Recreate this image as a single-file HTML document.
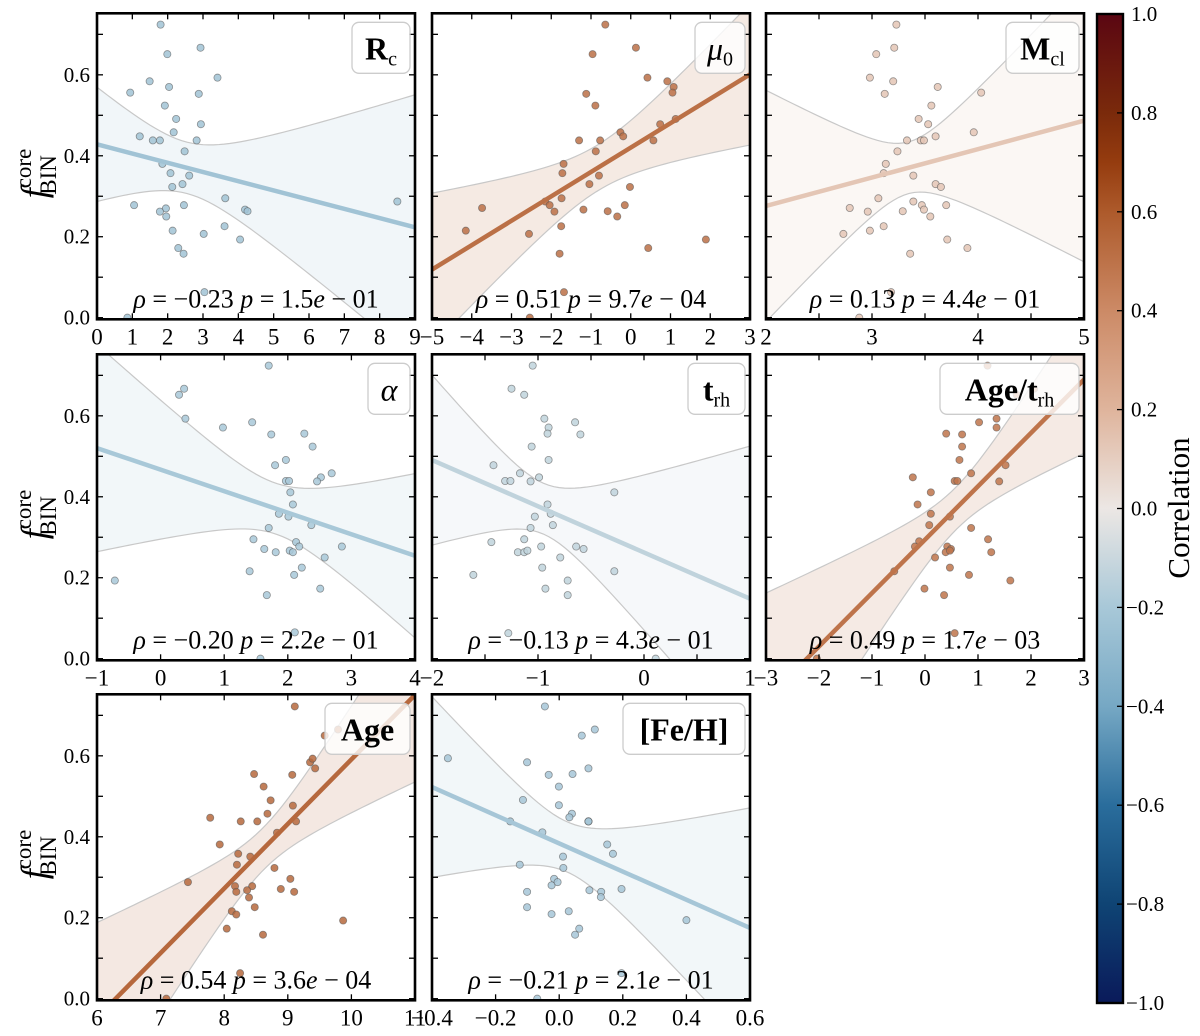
<!DOCTYPE html>
<html><head><meta charset="utf-8"><style>
html,body{margin:0;padding:0;background:#fff;width:1200px;height:1036px;overflow:hidden;}
svg{display:block;}
text{font-family:"Liberation Serif","DejaVu Serif",serif;}
</style></head><body>
<svg id="fig" width="1200" height="1036" viewBox="0 0 1200 1036" xmlns="http://www.w3.org/2000/svg">
<defs>
<linearGradient id="cbgrad" x1="0" y1="0" x2="0" y2="1">
<stop offset="0" stop-color="#5a0612"/>
<stop offset="0.1" stop-color="#7a2a0b"/>
<stop offset="0.15" stop-color="#953c0f"/>
<stop offset="0.2" stop-color="#ad5a2b"/>
<stop offset="0.3" stop-color="#cc8a66"/>
<stop offset="0.4" stop-color="#dfb49c"/>
<stop offset="0.5" stop-color="#ece7e4"/>
<stop offset="0.6" stop-color="#a8c8d8"/>
<stop offset="0.7" stop-color="#76a8c4"/>
<stop offset="0.8" stop-color="#2a6d9c"/>
<stop offset="0.9" stop-color="#0f4474"/>
<stop offset="1" stop-color="#0a1a5a"/>
</linearGradient>
</defs>
</svg>
<script>
// shared y values (f_BIN core)
const fbin = [0.724,0.667,0.651,0.593,0.584,0.570,0.556,0.553,0.524,0.491,0.478,0.458,0.448,0.438,0.438,0.438,0.411,0.380,0.357,0.351,0.330,0.323,0.295,0.278,0.270,0.278,0.262,0.250,0.267,0.263,0.215,0.207,0.226,0.193,0.172,0.158,0.287,0.063,0.0];
const xRc = [1.80,2.93,1.99,3.41,1.49,2.04,0.94,2.88,1.92,2.24,2.94,2.17,1.21,1.58,1.78,2.82,2.48,1.85,2.08,2.61,2.42,2.13,3.63,1.05,1.95,2.46,1.78,1.96,4.19,4.26,2.14,3.02,3.61,4.05,2.30,2.45,8.50,3.04,0.86];
const yMu = [0.724,0.667,0.651,0.593,0.584,0.570,0.556,0.553,0.524,0.491,0.478,0.458,0.448,0.438,0.438,0.438,0.411,0.380,0.357,0.351,0.330,0.323,0.295,0.271,0.287,0.278,0.262,0.267,0.263,0.250,0.278,0.226,0.215,0.207,0.193,0.172,0.158,0.063,0.0];
const xMu = [-0.64,0.13,-0.96,0.42,0.92,1.08,1.05,-1.12,-0.89,1.13,0.74,-0.26,-0.19,-1.30,-0.77,0.57,-0.88,-1.69,-1.72,-0.80,-1.04,-0.02,-1.74,-3.74,-2.15,-2.04,-1.92,-1.19,-0.58,-0.34,-0.15,-1.75,-4.15,-2.56,1.89,0.44,-1.79,-1.68,-2.54];
const yMcl = [0.724,0.667,0.651,0.593,0.584,0.570,0.553,0.556,0.524,0.491,0.478,0.458,0.448,0.438,0.438,0.438,0.411,0.380,0.357,0.351,0.330,0.323,0.295,0.271,0.287,0.278,0.267,0.278,0.262,0.263,0.250,0.226,0.215,0.207,0.193,0.172,0.158,0.063,0.0];
const xMcl = [3.23,3.21,3.04,2.98,3.20,3.62,3.12,4.03,3.56,3.44,3.53,3.96,3.60,3.33,3.46,3.49,3.24,3.13,3.11,3.39,3.60,3.65,3.06,2.79,3.39,3.47,3.49,3.70,2.96,3.29,3.55,3.11,2.98,2.73,3.71,3.90,3.36,3.18,2.88];
const yAl = [0.724,0.667,0.652,0.593,0.584,0.571,0.554,0.556,0.524,0.491,0.478,0.458,0.448,0.438,0.439,0.439,0.411,0.381,0.358,0.351,0.330,0.323,0.295,0.277,0.271,0.288,0.277,0.263,0.267,0.263,0.250,0.225,0.216,0.207,0.193,0.173,0.157,0.065,0.0];
const xAl = [1.70,0.37,0.29,0.39,1.44,0.98,1.74,2.26,2.39,1.97,1.80,2.69,2.52,2.46,1.97,2.02,2.04,2.08,1.86,2.01,2.37,1.70,1.46,2.85,1.63,2.13,2.18,1.81,2.03,2.08,2.58,2.22,1.40,2.10,-0.72,2.51,1.67,2.11,1.57];
const yTrh = [0.724,0.667,0.652,0.593,0.584,0.571,0.556,0.554,0.524,0.491,0.478,0.458,0.448,0.439,0.439,0.438,0.411,0.381,0.358,0.351,0.330,0.323,0.295,0.288,0.277,0.277,0.271,0.263,0.263,0.267,0.250,0.225,0.216,0.207,0.193,0.173,0.157,0.063,0.0];
const xTrh = [-1.05,-1.25,-1.13,-0.94,-0.65,-0.90,-0.91,-0.60,-1.06,-0.90,-1.42,-1.17,-0.99,-1.31,-1.26,-1.07,-0.28,-0.91,-0.88,-1.03,-0.86,-1.07,-1.13,-1.44,-0.97,-0.64,-0.57,-1.19,-1.13,-1.10,-0.79,-0.96,-0.28,-1.61,-0.72,-0.93,-0.72,-1.28,0.11];
const yAt = [0.724,0.652,0.667,0.584,0.593,0.571,0.556,0.554,0.524,0.491,0.478,0.458,0.448,0.439,0.439,0.438,0.411,0.381,0.358,0.351,0.330,0.323,0.290,0.295,0.277,0.277,0.271,0.263,0.263,0.250,0.225,0.216,0.207,0.193,0.173,0.157,0.063,0.0,0.267];
const xAt = [1.18,1.73,2.06,1.02,1.35,1.35,0.40,0.70,0.70,0.65,1.52,0.87,-0.23,0.56,0.61,1.40,0.11,-0.14,0.11,0.47,0.08,0.87,-0.11,1.19,-0.19,0.42,0.49,1.25,0.39,0.19,0.47,-0.58,0.83,1.61,-0.01,0.36,0.56,-2.04,0.47];
const yAge = [0.722,0.650,0.665,0.584,0.593,0.569,0.555,0.553,0.524,0.490,0.477,0.457,0.447,0.438,0.438,0.438,0.410,0.381,0.358,0.351,0.331,0.323,0.296,0.288,0.278,0.278,0.271,0.268,0.264,0.264,0.250,0.226,0.216,0.208,0.193,0.173,0.158,0.063,0.0];
const xAge = [9.11,9.58,9.79,9.35,9.39,9.43,8.47,9.07,8.62,8.73,9.08,8.68,7.78,8.26,8.52,9.13,8.83,7.93,8.22,8.41,8.20,8.79,9.04,7.43,8.17,8.44,8.89,8.36,8.19,9.10,8.39,8.48,8.12,8.19,9.87,8.04,8.61,8.25,7.09];
const yFe = [0.722,0.665,0.650,0.594,0.584,0.569,0.553,0.555,0.524,0.491,0.478,0.457,0.448,0.438,0.438,0.438,0.411,0.381,0.358,0.351,0.331,0.323,0.296,0.280,0.288,0.268,0.264,0.251,0.271,0.264,0.226,0.216,0.209,0.194,0.173,0.158,0.063,0.0,0.438];
const xFe = [-0.045,0.112,0.071,-0.350,-0.101,0.092,-0.033,0.042,-0.001,-0.114,-0.001,0.040,0.032,-0.154,0.092,0.092,-0.053,0.151,0.169,0.012,-0.124,0.013,-0.016,-0.024,-0.005,0.095,0.132,0.131,0.196,-0.101,-0.101,0.030,-0.024,0.400,0.063,0.050,0.196,-0.069,0.092];
const rhoVals = [-0.23,0.51,0.13,-0.20,-0.13,0.49,0.54,-0.21];
const pVals = ["1.5e − 01","9.7e − 04","4.4e − 01","2.2e − 01","4.3e − 01","1.7e − 03","3.6e − 04","2.1e − 01"];
const xLims = [[0,9],[-5,3],[2,5],[-1,4],[-2,1],[-3,3],[6,11],[-0.4,0.6]];
const xTickLabels = [[0,1,2,3,4,5,6,7,8,9],[-5,-4,-3,-2,-1,0,1,2,3],[2,3,4,5],[-1,0,1,2,3,4],[-2,-1,0,1],[-3,-2,-1,0,1,2,3],[6,7,8,9,10,11],[-0.4,-0.2,0.0,0.2,0.4,0.6]];
const xTickSteps = [1,1,0.5,1,0.5,1,1,0.2];
const yTickLabels = [0.0,0.2,0.4,0.6];
const cbTicks = [1.0,0.8,0.6,0.4,0.2,0.0,-0.2,-0.4,-0.6,-0.8,-1.0];

const panelsX = [xRc,xMu,xMcl,xAl,xTrh,xAt,xAge,xFe];
const panelsY = [fbin,yMu,yMcl,yAl,yTrh,yAt,yAge,yFe];
const names = ["rc","mu0","mcl","alpha","trh","age-trh","age","feh"];

const NS="http://www.w3.org/2000/svg";
const svg=document.getElementById('fig');
function mk(tag,attrs,parent){const e=document.createElementNS(NS,tag);for(const k in attrs)e.setAttribute(k,attrs[k]);(parent||svg).appendChild(e);return e;}

const stops=[[1,[90,6,18]],[0.8,[122,42,11]],[0.7,[149,60,15]],[0.6,[173,90,43]],[0.4,[204,138,102]],[0.2,[223,180,156]],[0,[236,231,228]],[-0.2,[168,200,216]],[-0.4,[118,168,196]],[-0.6,[42,109,156]],[-0.8,[15,68,116]],[-1,[10,26,90]]];
function cmap(v){for(let i=0;i<stops.length-1;i++){const a=stops[i],b=stops[i+1];if(v<=a[0]&&v>=b[0]){const t=(a[0]-v)/(a[0]-b[0]);const c=a[1].map((x,j)=>Math.round(x+(b[1][j]-x)*t));return 'rgb('+c.join(',')+')';}}return 'rgb(236,231,228)';}

const colL=[97,432,766], W=318, rowT=[13.3,354.3,694.3], H=306, YMIN=-0.004, YMAX=0.752;
function fmtTick(v,i){if(i===7)return (v<0?'−':'')+Math.abs(v).toFixed(1);return (v<0?'−':'')+Math.abs(v);}

for(let p=0;p<8;p++){
  const L=colL[p%3], T=rowT[Math.floor(p/3)];
  const [x0,x1]=xLims[p];
  const sx=v=>L+(v-x0)/(x1-x0)*W;
  const sy=v=>T+H-(v-YMIN)/(YMAX-YMIN)*H;
  const g=mk('g',{});
  
  
  const cp=mk('clipPath',{id:'clip'+p},g);mk('rect',{x:L,y:T,width:W,height:H},cp);
  const col=cmap(rhoVals[p]);
  const xs=panelsX[p], ys=panelsY[p], n=xs.length;
  const xm=xs.reduce((a,b)=>a+b)/n, ym=ys.reduce((a,b)=>a+b)/n;
  let sxx=0,sxy=0;for(let i=0;i<n;i++){sxx+=(xs[i]-xm)**2;sxy+=(xs[i]-xm)*(ys[i]-ym);}
  const b=sxy/sxx, a=ym-b*xm;
  let sse=0;for(let i=0;i<n;i++)sse+=(ys[i]-a-b*xs[i])**2;
  const s=Math.sqrt(sse/(n-2)), tq=2.35;
  const up=[],lo=[];
  for(let k=0;k<=60;k++){const xv=x0+(x1-x0)*k/60;const yh=a+b*xv;const se=s*Math.sqrt(1/n+(xv-xm)**2/sxx);up.push([sx(xv),sy(yh+tq*se)]);lo.push([sx(xv),sy(yh-tq*se)]);}
  const cg=mk('g',{'clip-path':'url(#clip'+p+')'},g);
  const band=mk('path',{d:'M'+up.map(q=>q.join(',')).join('L')+'L'+lo.reverse().map(q=>q.join(',')).join('L')+'Z',fill:col,'fill-opacity':0.15,stroke:'#c8c8c8','stroke-width':1.2},cg);
  
  
  for(let i=0;i<n;i++){
    const c=mk('circle',{cx:sx(xs[i]),cy:sy(ys[i]),r:3.6,fill:col,'fill-opacity':0.85,stroke:'#555','stroke-opacity':0.6,'stroke-width':0.8},cg);
    
    
  }
  const ln=mk('line',{x1:sx(x0),y1:sy(a+b*x0),x2:sx(x1),y2:sy(a+b*x1),stroke:col,'stroke-width':4.5},cg);
  
  
  const st=xTickSteps[p];
  for(let v=x0;v<=x1+1e-9;v+=st){const X=sx(v);mk('line',{x1:X,y1:T+H,x2:X,y2:T+H-6,stroke:'#000','stroke-width':1.3},g);mk('line',{x1:X,y1:T,x2:X,y2:T+6,stroke:'#000','stroke-width':1.3},g);}
  for(let v=0;v<=0.7001;v+=0.1){const Y=sy(v);mk('line',{x1:L,y1:Y,x2:L+6,y2:Y,stroke:'#000','stroke-width':1.3},g);mk('line',{x1:L+W,y1:Y,x2:L+W-6,y2:Y,stroke:'#000','stroke-width':1.3},g);}
  xTickLabels[p].forEach(v=>{const t=mk('text',{x:sx(v),y:T+H+25,'text-anchor':'middle','font-size':23},g);t.textContent=fmtTick(v,p);});
  if(p%3===0){
    yTickLabels.forEach(v=>{const t=mk('text',{x:L-7,y:sy(v)+7,'text-anchor':'end','font-size':21},g);t.textContent=v.toFixed(1);});
    const yl=mk('text',{transform:'translate(46,'+(T+H/2+32)+') rotate(-90)','font-size':36},g);
    
    yl.innerHTML='<tspan font-style="italic">f</tspan><tspan font-size="23" dy="-15">core</tspan><tspan font-size="23" dx="-46" dy="25">BIN</tspan>';
  }
  mk('rect',{x:L,y:T,width:W,height:H,fill:'none',stroke:'#000','stroke-width':2.6},g);
  const an=mk('text',{x:L+W/2,y:T+H-12,'text-anchor':'middle','font-size':26},g);
  
  const r=rhoVals[p];
  an.innerHTML='<tspan font-style="italic">ρ</tspan> = '+(r<0?'−':'')+Math.abs(r).toFixed(2)+' <tspan font-style="italic">p</tspan> = '+pVals[p].replace('e','<tspan font-style="italic">e</tspan>');
}
const lbls=[['R','c',58],['μ','0',50],['M','cl',73],['α','',42],['t','rh',57],['Age/t','rh',139],['Age','',85],['[Fe/H]','',122]];
lbls.forEach((lb,p)=>{
  const L=colL[p%3], T=rowT[Math.floor(p/3)];
  const w=lb[2], x=L+W-5-w, y=T+9;
  const g=mk('g',{});
  
  
  mk('rect',{x:x,y:y,width:w,height:51,rx:7,fill:'#fff','fill-opacity':0.8,stroke:'#cccccc','stroke-width':1.3},g);
  const t=mk('text',{x:x+w/2,y:y+37,'text-anchor':'middle','font-size':32,'font-weight':(p===1||p===3)?'normal':'bold','font-style':(p===1||p===3)?'italic':'normal'},g);
  t.innerHTML=lb[0]+(lb[1]?'<tspan font-size="20" font-weight="normal" font-style="normal" dy="6">'+lb[1]+'</tspan>':'');
});
const cbX=1097, cbT=14, cbB=1003, cbW=26;
const cb=mk('g',{});


mk('rect',{x:cbX,y:cbT,width:cbW,height:cbB-cbT,fill:'url(#cbgrad)',stroke:'#000','stroke-width':2.4},cb);
cbTicks.forEach(v=>{const Y=cbT+(1-v)/2*(cbB-cbT);mk('line',{x1:cbX+cbW,y1:Y,x2:cbX+cbW-6,y2:Y,stroke:'#000','stroke-width':1.3},cb);
  const t=mk('text',{x:cbX+(v<0?29:34),y:Y+7,'font-size':21},cb);t.textContent=(v<0?'−':'')+Math.abs(v).toFixed(1);
  });
const ct=mk('text',{transform:'translate(1189,508) rotate(-90)','text-anchor':'middle','font-size':31},cb);
ct.textContent='Correlation';


</script>
</body></html>
